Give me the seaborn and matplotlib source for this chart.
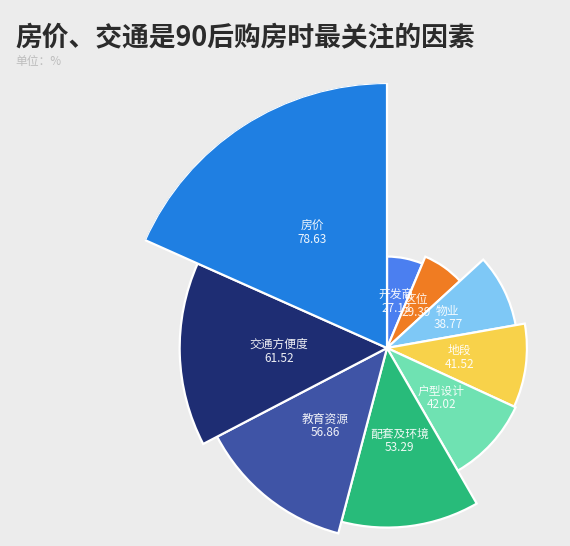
import numpy as np
import seaborn as sns
import matplotlib
import matplotlib.pyplot as plt
matplotlib.use('Agg')

# data, clockwise from 12 o'clock
factors = ['开发商', '区位', '物业', '地段', '户型设计', '配套及环境', '教育资源', '交通方便度', '房价']
shares = [27.13, 29.39, 38.77, 41.52, 42.02, 53.29, 56.86, 61.52, 78.63]
colors = ['#4b7ff0', '#f07c22', '#7ec8f6', '#f8d24a', '#6fe2b2',
          '#28bb7a', '#3f54a6', '#1e2d73', '#1f7fe2']

title = '房价、交通是90后购房时最关注的因素'
subtitle = '单位：%'

sns.set_theme(style='white')
plt.rcParams['font.family'] = ['Noto Sans CJK SC', 'DejaVu Sans']

bg = '#ececec'
fig = plt.figure(figsize=(5.7, 5.46), dpi=100, facecolor=bg)

# rose chart: angle and radius both proportional to value
W, H = 570, 546
cx, cy, R = 387, 348, 265
ax = fig.add_axes([(cx - R) / W, (H - cy - R) / H, 2 * R / W, 2 * R / H],
                  projection='polar')
ax.set_theta_zero_location('N')
ax.set_theta_direction(-1)

vals = np.array(shares)
widths = vals / vals.sum() * 2 * np.pi
starts = np.concatenate([[0], np.cumsum(widths)[:-1]])

ax.bar(starts, vals, width=widths, align='edge', color=colors,
       edgecolor='white', linewidth=1.6)

# labels sit halfway out along each sector (they collide for the two small ones, as in the original)
for th, w, v, name in zip(starts, widths, vals, factors):
    ax.text(th + w / 2, v * 0.52, f'{name}\n{v:.2f}', ha='center', va='center',
            color='white', fontsize=8.5, linespacing=1.05, alpha=0.92)

ax.set_ylim(0, max(shares))
ax.set_axis_off()
ax.patch.set_alpha(0)

fig.text(15 / W, 1 - 37 / H, title, fontsize=19.3, fontweight='bold',
         color='#2b2b2b', ha='left', va='center')
fig.text(15 / W, 1 - 62 / H, subtitle, fontsize=8.5, color='#bdbdbd',
         ha='left', va='center')

fig.savefig('out.png', dpi=100, facecolor=bg)
plt.close()
